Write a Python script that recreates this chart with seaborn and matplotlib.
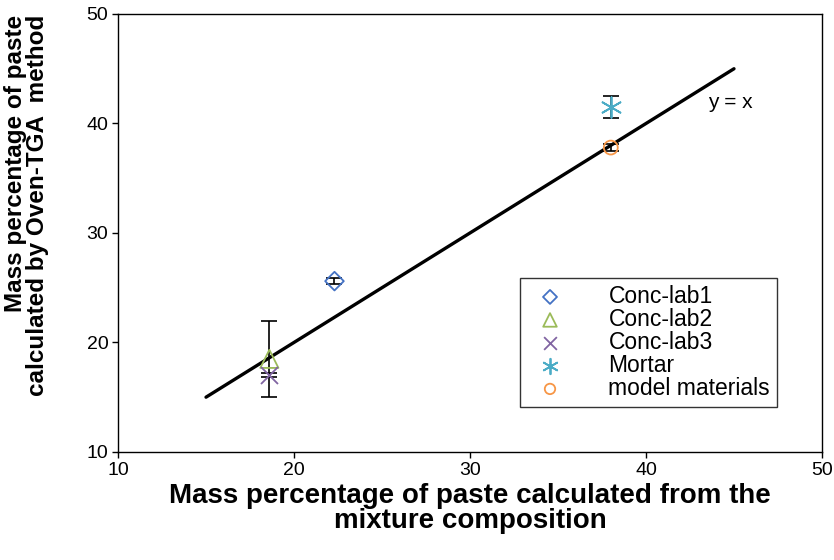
import matplotlib
matplotlib.use("Agg")
import matplotlib.pyplot as plt
import seaborn as sns
import pandas as pd

series = ["Conc-lab1", "Conc-lab2", "Conc-lab3", "Mortar", "model materials"]
x_vals = [22.3, 18.6, 18.6, 38.0, 38.0]
y_vals = [25.6, 18.5, 17.0, 41.5, 37.8]
y_err = [0.3, 3.5, 0.2, 1.0, 0.3]
colors = ["#4472C4", "#9BBB59", "#8064A2", "#4BACC6", "#F79646"]
markers = ["D", "^", "x", (6, 2, 0), "o"]
sizes = [90, 170, 150, 220, 100]
line_x = [15, 45]
line_y = [15, 45]

sns.set_style("white")
plt.rcParams['font.family'] = ['Liberation Sans', 'DejaVu Sans']
plt.rcParams['text.color'] = 'black'
plt.rcParams['axes.labelcolor'] = 'black'
plt.rcParams['xtick.color'] = 'black'
plt.rcParams['ytick.color'] = 'black'

fig = plt.figure(figsize=(8.34, 5.6), dpi=100)
ax = fig.add_axes([0.1415, 0.193, 0.8441, 0.782])

sns.lineplot(x=line_x, y=line_y, ax=ax, color="black", linewidth=2.4, zorder=1)

for name, xv, yv, err, c, m, s in zip(series, x_vals, y_vals, y_err, colors, markers, sizes):
    ax.errorbar([xv], [yv], yerr=[err], fmt="none", ecolor="black", elinewidth=1.2,
                capsize=6, capthick=1.2, zorder=2)
    df = pd.DataFrame({"x": [xv], "y": [yv]})
    if m in ("x", (6, 2, 0)):
        sns.scatterplot(data=df, x="x", y="y", ax=ax, marker=m, s=s, color=c,
                        linewidth=1.3, label=name, zorder=3)
    else:
        sns.scatterplot(data=df, x="x", y="y", ax=ax, marker=m, s=s, facecolor="none",
                        edgecolor=c, linewidth=1.3, label=name, zorder=3)

ax.set_xlim(10, 50)
ax.set_ylim(10, 50)
ax.set_xticks([10, 20, 30, 40, 50])
ax.set_yticks([10, 20, 30, 40, 50])
ax.tick_params(axis="both", labelsize=14, direction="out", length=4, width=1,
               left=True, bottom=True, pad=3)
for sp in ax.spines.values():
    sp.set_color("black")
    sp.set_linewidth(1)

ax.set_xlabel("Mass percentage of paste calculated from the\nmixture composition",
              fontsize=20, fontweight="bold", labelpad=3, linespacing=0.95)
ax.set_ylabel("Mass percentage of paste\ncalculated by Oven-TGA  method",
              fontsize=17.5, fontweight="bold", linespacing=0.95, multialignment="right")
ax.yaxis.set_label_coords(-0.098, 0.562)

ax.text(44.8, 41.9, "y = x", fontsize=15, ha="center", va="center")

leg = ax.legend(loc="lower right", bbox_to_anchor=(0.936, 0.103), fontsize=16.5,
                frameon=True, fancybox=False, edgecolor="black", handletextpad=1.55,
                labelspacing=0.0, borderpad=0.3, handlelength=2.0, markerscale=0.75,
                borderaxespad=0)
leg.get_frame().set_linewidth(1)

fig.savefig("out.png", dpi=100)
